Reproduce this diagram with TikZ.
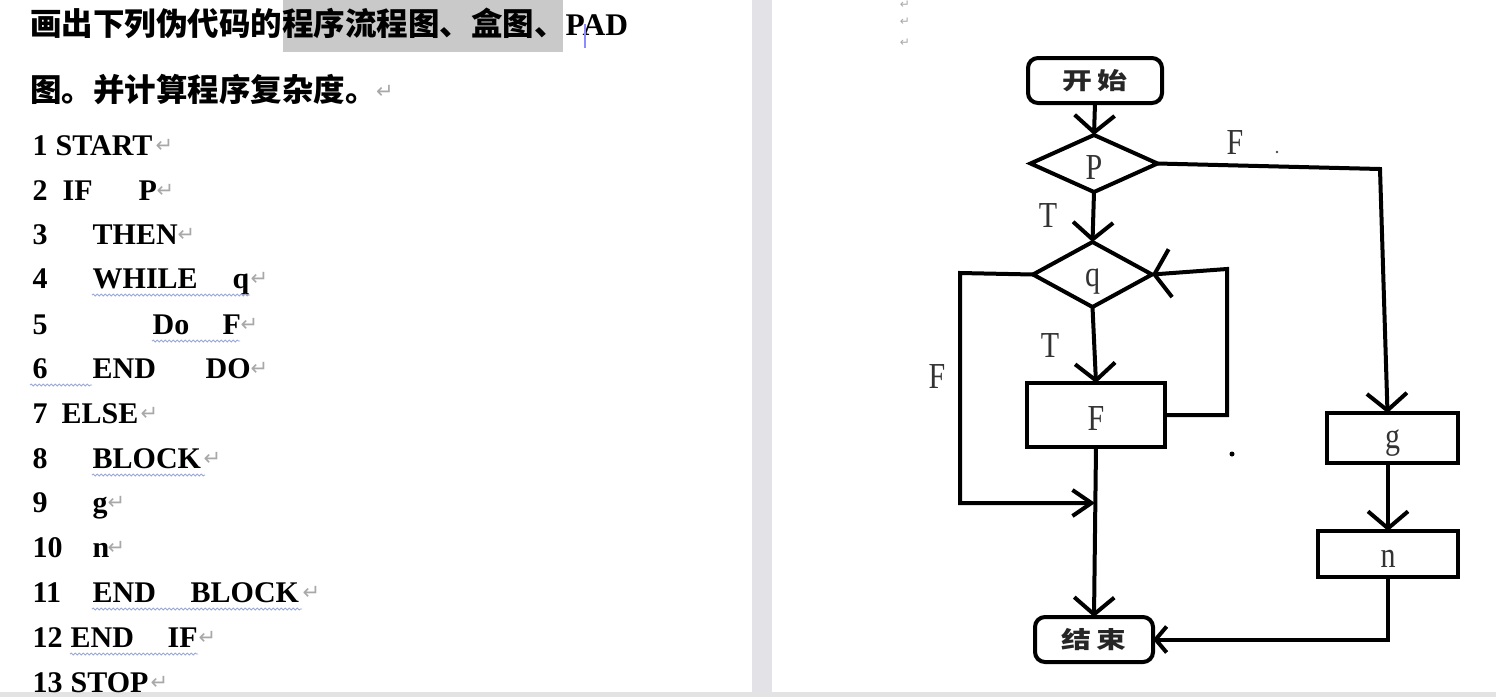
\documentclass[tikz,border=0pt]{standalone}
\usepackage{fontspec}
\usepackage{graphicx}
\setmainfont{Liberation Serif}
\newfontfamily\cjkf{Noto Sans CJK SC}
\newfontfamily\symf{DejaVu Sans}
\usetikzlibrary{arrows.meta,shapes.geometric,decorations.pathmorphing,calc}
\definecolor{hl}{HTML}{C9C9C9}
\definecolor{sepgray}{HTML}{E3E3E7}
\definecolor{retgray}{HTML}{A8A8A8}
\definecolor{wavyc}{HTML}{9AA8D8}
\definecolor{lbl}{HTML}{333333}
\newcommand\putat[2]{\rlap{\hspace*{#1pt}#2}}
\newcommand\retmk{{\symf\mdseries\fontsize{21}{21}\selectfont\color{retgray}\raisebox{3pt}{↵}}}
\newcommand\tallt[2]{\raisebox{-#1pt}[0pt][0pt]{\scalebox{1}[1.22]{#2}}}
\tikzset{
  code/.style={anchor=base west, inner sep=0pt, font=\bfseries\fontsize{30}{30}\selectfont, text=black},
  titl/.style={anchor=base west, inner sep=0pt, font=\cjkf\bfseries\fontsize{31.5}{31.5}\selectfont, text=black},
  wav/.style={draw=wavyc, line width=0.9pt, decorate, decoration={snake, segment length=4pt, amplitude=0.9pt}},
  fl/.style={draw=black, line width=4pt, outer sep=0pt, inner sep=0pt, font=\fontsize{30}{30}\selectfont, text=lbl},
  term/.style={fl, rectangle, rounded corners=10pt},
  proc/.style={fl, rectangle},
  dec/.style={fl, diamond},
  conn/.style={line width=4pt, draw=black},
  arr/.style={conn, -{Straight Barb[length=17pt,width=40pt]}},
  arrQ/.style={conn, -{Straight Barb[length=16pt,width=48pt]}},
  arrJ/.style={conn, -{Straight Barb[length=19pt,width=26pt]}},
  arrE/.style={conn, -{Straight Barb[length=11pt,width=26pt]}},
  lab/.style={inner sep=0pt, font=\fontsize{30}{30}\selectfont, text=lbl},
  pmark/.style={inner sep=0pt, font=\symf\fontsize{12}{12}\selectfont, text=retgray},
}
\begin{document}
\begin{tikzpicture}[x=1pt,y=-1pt]
\useasboundingbox (0,0) rectangle (1496,697);
\fill[white] (0,0) rectangle (1496,697);
% page separator and bottom strip
\fill[sepgray] (752,0) rectangle (772,697);
\fill[gray!22] (0,692) rectangle (1496,697);
% highlight
\fill[hl] (283,0) rectangle (563,52);
% title
\node[titl] (t1) at (30,35) {画出下列伪代码的程序流程图、盒图、{\rmfamily PAD}};
\node[titl] (t2) at (30,101) {图。并计算程序复杂度。};
\node[code] (t2r) at (376,101) {\retmk};
\draw[blue!45!white, line width=1.5pt] (585,24) -- (585,48);
% code lines
\node[code] (l1) at (0,155) {\putat{32}{1}\putat{55}{START}\putat{155}{\retmk}};
\node[code] (l2) at (0,200) {\putat{32}{2}\putat{62}{IF}\putat{138}{P}\putat{156}{\retmk}};
\node[code] (l3) at (0,244) {\putat{32}{3}\putat{92}{THEN}\putat{177}{\retmk}};
\node[code] (l4) at (0,288) {\putat{32}{4}\putat{92}{WHILE}\putat{232}{q}\putat{250}{\retmk}};
\node[code] (l5) at (0,334) {\putat{32}{5}\putat{152}{Do}\putat{222}{F}\putat{240}{\retmk}};
\node[code] (l6) at (0,378) {\putat{32}{6}\putat{92}{END}\putat{205}{DO}\putat{250}{\retmk}};
\node[code] (l7) at (0,423) {\putat{32}{7}\putat{61}{ELSE}\putat{140}{\retmk}};
\node[code] (l8) at (0,468) {\putat{32}{8}\putat{92}{BLOCK}\putat{203}{\retmk}};
\node[code] (l9) at (0,512) {\putat{32}{9}\putat{92}{g}\putat{107}{\retmk}};
\node[code] (l10) at (0,557) {\putat{32}{10}\putat{92}{n}\putat{107}{\retmk}};
\node[code] (l11) at (0,602) {\putat{32}{11}\putat{92}{END}\putat{190}{BLOCK}\putat{302}{\retmk}};
\node[code] (l12) at (0,647) {\putat{32}{12}\putat{70}{END}\putat{167}{IF}\putat{198}{\retmk}};
\node[code] (l13) at (0,692) {\putat{32}{13}\putat{70}{STOP}\putat{150}{\retmk}};
% wavy underlines
\draw[wav] (92,295) -- (250,295);
\draw[wav] (152,341) -- (240,341);
\draw[wav] (30,385) -- (92,385);
\draw[wav] (92,475) -- (205,475);
\draw[wav] (92,609) -- (302,609);
\draw[wav] (70,654) -- (198,654);
% right page paragraph marks
\node[pmark] (m1) at (905,5) {↵};
\node[pmark] (m2) at (905,22) {↵};
\node[pmark] (m3) at (905,43) {↵};
% flowchart nodes
\node[term, minimum width=134pt, minimum height=45pt] (start) at (1095,80.5)
  {\cjkf\bfseries\fontsize{26}{26}\selectfont\color{black!85}\scalebox{1.15}[0.9]{开\,始}};
\node[dec, minimum width=127pt, minimum height=57pt] (P) at (1094,163.5) {\tallt{16}{P}};
\node[dec, minimum width=119pt, minimum height=65pt] (q) at (1092.5,274.5) {\tallt{12}{q}};
\node[proc, minimum width=138pt, minimum height=64pt] (Fb) at (1096,415) {\tallt{15}{F}};
\node[proc, minimum width=131pt, minimum height=50pt] (g) at (1392.5,438) {\tallt{10}{g}};
\node[proc, minimum width=140pt, minimum height=46pt] (n) at (1388,554) {\tallt{13}{n}};
\node[term, minimum width=118pt, minimum height=45pt] (stop) at (1094,639.5)
  {\cjkf\bfseries\fontsize{26}{26}\selectfont\color{black!85}\scalebox{1.15}[0.9]{结\,束}};
% helper coordinates
\coordinate (pF) at (1380,169);
\coordinate (qL) at (960,273);
\coordinate (jn) at (1095,503);
\coordinate (lp) at (1227,269);
% connectors
\draw[arr] (start.south) -- (P.north);
\draw[arr] (P.east) -- (pF) -- ([xshift=-5pt]g.north);
\draw[arr] (P.south) -- (q.north);
\draw[arrJ] (q.west) -- (qL) -- (qL |- jn) -- (jn);
\draw[arr] (q.south) -- (Fb.north);
\draw[arrQ] (Fb.east) -| (lp) -- (q.east);
\draw[arr] (Fb.south) -- (stop.north);
\draw[arr] (n.north |- g.south) -- (n.north);
\draw[arrE] (n.south) |- (stop.east);
% labels
\node[lab] (lF1) at (1235,142) {\tallt{12}{F}};
\node[lab] (lT1) at (1048,215) {\tallt{12}{T}};
\node[lab] (lT2) at (1050,345) {\tallt{12}{T}};
\node[lab] (lF2) at (937,376) {\tallt{12}{F}};
\fill[black!70] (1277,152) circle (1.3pt);
\fill[black] (1232,454) circle (2.5pt);
\end{tikzpicture}
\end{document}
